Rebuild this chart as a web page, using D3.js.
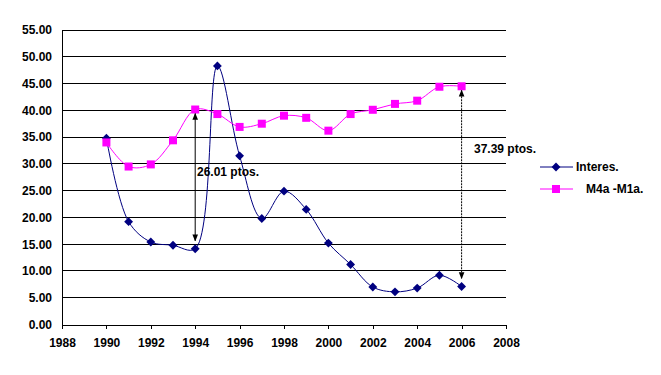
<!DOCTYPE html>
<html>
<head>
<meta charset="utf-8">
<script src="https://cdn.jsdelivr.net/npm/d3@7"></script>
<style>
  body { margin: 0; background: #fff; }
  svg text { font-family: "Liberation Sans", Arial, sans-serif; font-weight: bold; font-size: 12px; }
</style>
</head>
<body>
<svg id="chart"></svg>
<script>
// data
const years = [1990, 1991, 1992, 1993, 1994, 1995, 1996, 1997, 1998, 1999, 2000, 2001, 2002, 2003, 2004, 2005, 2006];
const interes = [34.8, 19.2, 15.4, 14.8, 14.14, 48.3, 31.5, 19.8, 24.9, 21.5, 15.2, 11.2, 7.0, 6.1, 6.8, 9.2, 7.10];
const m4m1 = [34.0, 29.5, 29.9, 34.4, 40.15, 39.3, 36.9, 37.5, 39.0, 38.6, 36.2, 39.3, 40.1, 41.2, 41.8, 44.4, 44.49];
const xTicks = [1988, 1990, 1992, 1994, 1996, 1998, 2000, 2002, 2004, 2006, 2008];
const yTicks = [0, 5, 10, 15, 20, 25, 30, 35, 40, 45, 50, 55];
const seriesNames = ["Interes.", "M4a -M1a."];
const gapYears = [1994, 2006];
const gapLabels = ["26.01 ptos.", "37.39 ptos."];

const config = {
  width: 661,
  height: 375,
  margin: { top: 30, right: 155, bottom: 50.5, left: 62 }
};

const svg = d3.select('#chart').attr('width', config.width).attr('height', config.height);
const x = d3.scaleLinear().domain([1988, 2008]).range([config.margin.left, config.width - config.margin.right]);
const y = d3.scaleLinear().domain([0, 55]).range([config.height - config.margin.bottom, config.margin.top]);

// gridlines
svg.append('g').selectAll('line').data(yTicks.filter(d => d > 0)).enter().append('line')
  .attr('x1', x(1988)).attr('x2', x(2008))
  .attr('y1', d => y(d)).attr('y2', d => y(d))
  .attr('stroke', '#000').attr('stroke-width', 1).attr('shape-rendering', 'crispEdges');

// y axis
const yAxis = svg.append('g').attr('transform', `translate(${x(1988)},0)`)
  .call(d3.axisLeft(y).tickValues(yTicks).tickFormat(d3.format('.2f')).tickSize(0).tickPadding(10));
yAxis.select('.domain').attr('stroke', '#000').attr('shape-rendering', 'crispEdges');
yAxis.selectAll('text').attr('fill', '#000').style('font-size', '12px').attr('font-family', null);

// x axis
const xAxis = svg.append('g').attr('transform', `translate(0,${y(0)})`)
  .call(d3.axisBottom(x).tickValues(xTicks).tickFormat(d3.format('d')).tickSize(4).tickPadding(10));
xAxis.select('.domain').attr('stroke', '#000').attr('shape-rendering', 'crispEdges');
xAxis.selectAll('line').attr('stroke', '#000').attr('shape-rendering', 'crispEdges');
xAxis.selectAll('text').attr('fill', '#000').style('font-size', '12px').attr('font-family', null);

const line = vals => d3.line()
  .x((d, i) => x(years[i]))
  .y(d => y(d))
  .curve(d3.curveCatmullRom.alpha(0.5))(vals);

// series
svg.append('path').attr('d', line(interes)).attr('fill', 'none').attr('stroke', '#000080').attr('stroke-width', 1);
svg.append('path').attr('d', line(m4m1)).attr('fill', 'none').attr('stroke', '#ff00ff').attr('stroke-width', 1);

const diamond = d3.symbol().type(d3.symbolDiamond2).size(50);
svg.append('g').selectAll('path').data(interes).enter().append('path')
  .attr('d', diamond)
  .attr('transform', (d, i) => `translate(${x(years[i])},${y(d)})`)
  .attr('fill', '#000080');

svg.append('g').selectAll('rect').data(m4m1).enter().append('rect')
  .attr('x', (d, i) => x(years[i]) - 4).attr('y', d => y(d) - 4)
  .attr('width', 8).attr('height', 8)
  .attr('fill', '#ff00ff');

// gap arrows
const defs = svg.append('defs');
defs.append('marker').attr('id', 'arrow').attr('viewBox', '0 0 10 10')
  .attr('refX', 9).attr('refY', 5).attr('markerWidth', 7).attr('markerHeight', 7)
  .attr('orient', 'auto-start-reverse')
  .append('path').attr('d', 'M0,1 L10,5 L0,9 Z').attr('fill', '#000');

gapYears.forEach((yr, k) => {
  const i = years.indexOf(yr);
  svg.append('line')
    .attr('x1', x(yr)).attr('x2', x(yr))
    .attr('y1', y(m4m1[i]) + 4).attr('y2', y(interes[i]) - 8)
    .attr('stroke', '#000').attr('stroke-width', 1)
    .attr('stroke-dasharray', k === 1 ? '2,1' : null)
    .attr('marker-start', 'url(#arrow)').attr('marker-end', 'url(#arrow)');
});

svg.append('text').attr('x', 197).attr('y', 176).attr('fill', '#000').text(gapLabels[0]);
svg.append('text').attr('x', 474).attr('y', 153).attr('fill', '#000').text(gapLabels[1]);

// legend
const legend = svg.append('g');
const legY = [167, 189];
legend.append('line').attr('x1', 540).attr('x2', 573).attr('y1', legY[0]).attr('y2', legY[0]).attr('stroke', '#000080');
legend.append('path').attr('d', diamond).attr('transform', `translate(556,${legY[0]})`).attr('fill', '#000080');
legend.append('text').attr('x', 576).attr('y', legY[0] + 4).attr('fill', '#000').text(seriesNames[0]);
legend.append('line').attr('x1', 540).attr('x2', 573).attr('y1', legY[1]).attr('y2', legY[1]).attr('stroke', '#ff00ff');
legend.append('rect').attr('x', 552).attr('y', legY[1] - 4).attr('width', 8).attr('height', 8).attr('fill', '#ff00ff');
legend.append('text').attr('x', 586).attr('y', legY[1] + 4).attr('fill', '#000').text(seriesNames[1]);
</script>
</body>
</html>
